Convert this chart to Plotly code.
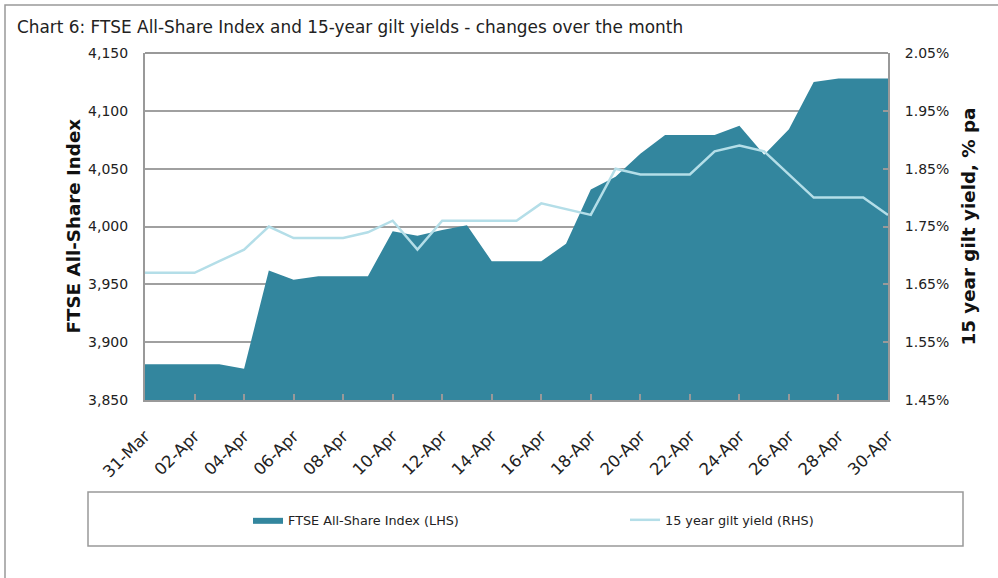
import plotly.graph_objects as go

dates = ["31-Mar", "01-Apr", "02-Apr", "03-Apr", "04-Apr", "05-Apr", "06-Apr", "07-Apr",
         "08-Apr", "09-Apr", "10-Apr", "11-Apr", "12-Apr", "13-Apr", "14-Apr", "15-Apr",
         "16-Apr", "17-Apr", "18-Apr", "19-Apr", "20-Apr", "21-Apr", "22-Apr", "23-Apr",
         "24-Apr", "25-Apr", "26-Apr", "27-Apr", "28-Apr", "29-Apr", "30-Apr"]

ftse = [3881, 3881, 3881, 3881, 3877, 3962, 3954, 3957, 3957, 3957, 3996, 3992, 3997,
        4001, 3970, 3970, 3970, 3985, 4032, 4043, 4063, 4079, 4079, 4079, 4087, 4062,
        4084, 4125, 4128, 4128, 4128]

gilt = [1.67, 1.67, 1.67, 1.69, 1.71, 1.75, 1.73, 1.73, 1.73, 1.74, 1.76, 1.71, 1.76,
        1.76, 1.76, 1.76, 1.79, 1.78, 1.77, 1.85, 1.84, 1.84, 1.84, 1.88, 1.89, 1.88,
        1.84, 1.80, 1.80, 1.80, 1.77]

left_ticks = [3850, 3900, 3950, 4000, 4050, 4100, 4150]
right_ticks = [1.45, 1.55, 1.65, 1.75, 1.85, 1.95, 2.05]

AREA = "#33869E"
LINE = "#B4DEE8"
GRID = "#A0A0A0"
AX = "#999999"
TXT = "#222222"

W, H = 998, 578
L, R, T, B = 145, 888, 53, 400
pw, ph = R - L, B - T


def px(x):
    return (x - L) / pw


def py(y):
    return (B - y) / ph


fig = go.Figure()
fig.add_trace(go.Scatter(x=dates, y=ftse, name="FTSE All-Share Index (LHS)", mode="lines",
                         fill="tozeroy", fillcolor=AREA, line=dict(color=AREA, width=0),
                         yaxis="y", legend="legend"))
fig.add_trace(go.Scatter(x=dates, y=gilt, name="15 year gilt yield (RHS)", mode="lines",
                         line=dict(color=LINE, width=2.5), yaxis="y2", legend="legend2"))

leg_font = dict(family="DejaVu Sans", size=12.8, color=TXT)

fig.update_layout(
    width=W, height=H,
    margin=dict(l=L, r=W - R, t=T, b=H - B),
    paper_bgcolor="white", plot_bgcolor="white",
    font=dict(family="DejaVu Sans", size=14, color=TXT),
    title=dict(text="Chart 6: FTSE All-Share Index and 15-year gilt yields - changes over the month",
               font=dict(family="DejaVu Sans", size=16.9, color=TXT),
               xref="container", yref="container", x=17 / W, xanchor="left",
               y=1 - 27 / H, yanchor="middle"),
    xaxis=dict(type="category", range=[0, len(dates) - 1], tickvals=dates[::2],
               ticktext=dates[::2], tickangle=-45, ticks="inside", ticklen=6,
               tickcolor=AX, tickwidth=1.5, showgrid=False, showline=True,
               linecolor=AX, linewidth=2, tickfont=dict(size=16.5), ticklabelstandoff=18),
    yaxis=dict(range=[3850, 4150], tickvals=left_ticks, tickformat=",", showgrid=True,
               gridcolor=GRID, gridwidth=1.5, showline=True, linecolor=AX, linewidth=2,
               ticks="", zeroline=False, tickfont=dict(size=14), ticklabelstandoff=12),
    yaxis2=dict(range=[1.45, 2.05], tickvals=right_ticks,
                ticktext=[f"{v:.2f}%" for v in right_ticks], overlaying="y", side="right",
                showgrid=False, showline=True, linecolor=AX, linewidth=2, ticks="inside",
                ticklen=5, tickcolor=AX, tickwidth=1.5, zeroline=False,
                tickfont=dict(size=14), ticklabelstandoff=12),
    showlegend=True,
    legend=dict(orientation="h", x=px(248), xanchor="left", y=py(520), yanchor="middle",
                font=leg_font, bgcolor="rgba(0,0,0,0)", borderwidth=0, itemwidth=30),
    legend2=dict(orientation="h", x=px(625), xanchor="left", y=py(520), yanchor="middle",
                 font=leg_font, bgcolor="rgba(0,0,0,0)", borderwidth=0, itemwidth=30),
    shapes=[
        dict(type="rect", xref="paper", yref="paper", x0=px(88), x1=px(963),
             y0=py(546), y1=py(492), line=dict(color=AX, width=1.5), layer="below"),
        dict(type="rect", xref="paper", yref="paper", x0=px(5), x1=px(1010),
             y0=py(590), y1=py(5), line=dict(color=AX, width=1.5), layer="below"),
        dict(type="line", xref="paper", yref="paper", x0=0, x1=1, y0=1, y1=1,
             line=dict(color=AX, width=2)),
    ],
    annotations=[
        dict(text="<b>FTSE All-Share Index</b>", xref="paper", yref="paper", x=0,
             xshift=73 - L, y=0.5, textangle=-90, showarrow=False,
             font=dict(family="DejaVu Sans", size=18.3, color="#111111"),
             xanchor="center", yanchor="middle"),
        dict(text="<b>15 year gilt yield, % pa</b>", xref="paper", yref="paper", x=1,
             xshift=968 - R, y=0.5, textangle=-90, showarrow=False,
             font=dict(family="DejaVu Sans", size=18.3, color="#111111"),
             xanchor="center", yanchor="middle"),
    ],
)

fig.write_html("out.html", config={"displayModeBar": False},
               post_script="document.body.style.margin='0';")
